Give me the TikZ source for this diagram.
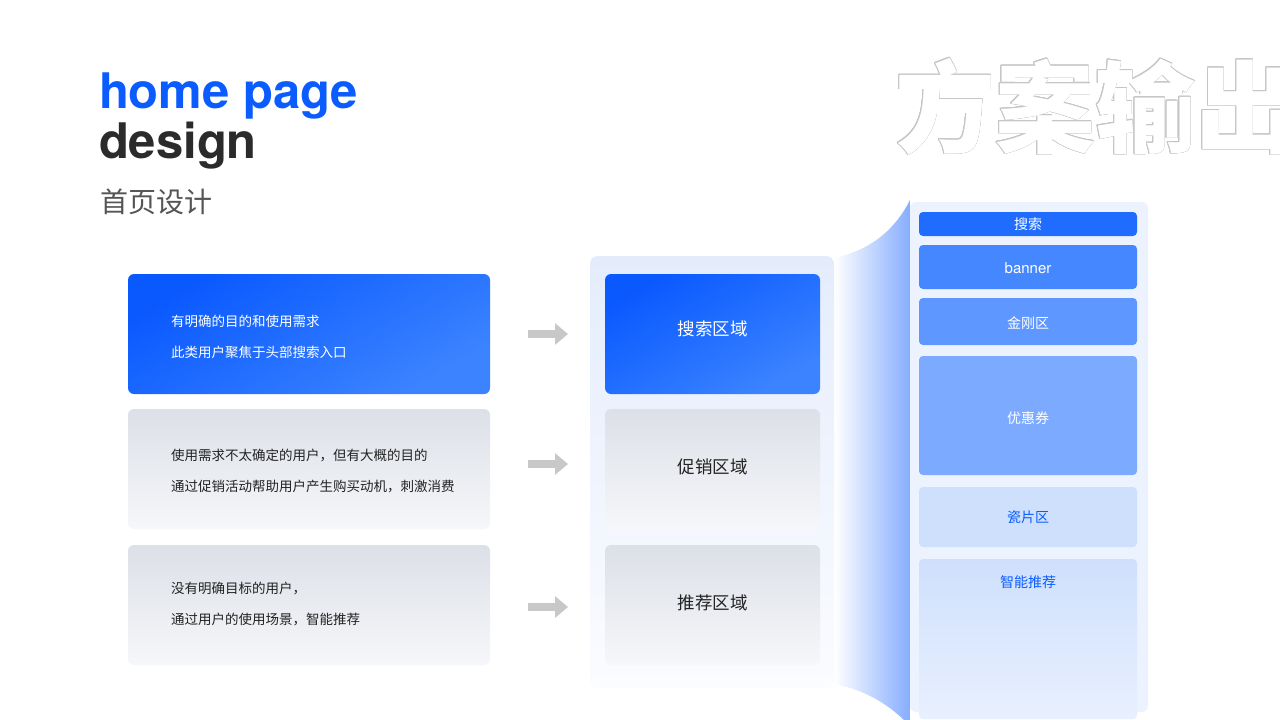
\documentclass[tikz,border=0pt]{standalone}
\usepackage{fontspec}
\setmainfont{Noto Sans CJK SC}
\newfontfamily\heros{TeX Gyre Heros}
\usetikzlibrary{arrows.meta,positioning}
\definecolor{brandblue}{HTML}{0A5CFF}
\definecolor{inkdark}{HTML}{2B2B2B}
\definecolor{inkgray}{HTML}{555555}
\definecolor{textdark}{HTML}{222222}
\definecolor{deepblue}{HTML}{0A59FF}
\definecolor{paleblue}{HTML}{3C84FF}
\definecolor{mistgray}{HTML}{DCE0E7}
\definecolor{fogwhite}{HTML}{F6F7FA}
\definecolor{panelwash}{HTML}{E4ECFC}
\definecolor{panelfade}{HTML}{FBFCFF}
\definecolor{arrowgray}{HTML}{C8C8C8}
\definecolor{halogray}{HTML}{C6C6C6}
\definecolor{funnelblue}{HTML}{86ADFF}
\definecolor{phonewash}{HTML}{EDF3FE}
\definecolor{slotsearch}{HTML}{1F6CFF}
\definecolor{slotbanner}{HTML}{4587FF}
\definecolor{slotkingkong}{HTML}{5E97FF}
\definecolor{slotcoupon}{HTML}{7BAAFF}
\definecolor{slottile}{HTML}{CFE0FD}
\definecolor{slotfade}{HTML}{E8F0FE}

\begin{document}
\begin{tikzpicture}[
  x=1pt, y=-1pt,
  every node/.style={inner sep=0pt, outer sep=0pt},
  card/.style={rounded corners=6pt, minimum width=362pt, minimum height=120pt},
  bluecard/.style={card, top color=deepblue, bottom color=paleblue, shading angle=30},
  graycard/.style={card, top color=mistgray, bottom color=fogwhite},
  note/.style={anchor=west, align=left, font=\fontsize{13.5}{31}\selectfont},
  zone/.style={rounded corners=6pt, minimum width=215pt, minimum height=120pt, font=\fontsize{17.5}{20}\selectfont},
  slot/.style={rounded corners=4pt, minimum width=218pt, text=white, font=\fontsize{14}{16}\selectfont},
  ghost/.style={anchor=base west, font=\fontsize{100}{100}\selectfont\bfseries},
  arr/.style={-{Triangle[length=13pt, width=21pt]}, line width=8pt, draw=arrowgray, shorten <=38pt, shorten >=37pt}
]
\useasboundingbox (0,0) rectangle (1280,720);
\clip (0,0) rectangle (1280,720);
\fill[white] (0,0) rectangle (1280,720);

% titles
\node[anchor=base west, text=brandblue, font=\heros\bfseries\fontsize{49}{49}\selectfont] (title) at (99,108) {home page};
\node[anchor=base west, text=inkdark, font=\heros\bfseries\fontsize{49}{49}\selectfont] (subtitle) at (99,158) {design};
\node[anchor=base west, text=inkgray, font=\fontsize{28}{28}\selectfont] (cntitle) at (100,212) {首页设计};

% outlined slogan
\foreach \i in {1,...,16}
  \node[ghost, text=halogray] (halo\i) at ([shift={(\i*22.5:0.7)}]895,145) {方案输出};
\node[ghost, text=white] (slogan) at (895,145) {方案输出};

% user needs
\node[bluecard] (need1) at (309,334) {};
\node[graycard, below=15pt of need1] (need2) {};
\node[graycard, below=16pt of need2] (need3) {};
\node[note, text=white] (need1txt) at ([xshift=43pt, yshift=-3pt]need1.west) {有明确的目的和使用需求\\此类用户聚焦于头部搜索入口};
\node[note, text=textdark] (need2txt) at ([xshift=43pt, yshift=-2pt]need2.west) {使用需求不太确定的用户，但有大概的目的\\通过促销活动帮助用户产生购买动机，刺激消费};
\node[note, text=textdark] (need3txt) at ([xshift=43pt, yshift=1pt]need3.west) {没有明确目标的用户，\\通过用户的使用场景，智能推荐};

% funnel towards the phone
\shade[left color=white, middle color=funnelblue!18, right color=funnelblue] (834,258) .. controls (872,250) and (896,228) .. (910,200)
  -- (910,726) .. controls (890,705) and (866,690) .. (834,684) -- cycle;

% zones
\shade[rounded corners=8pt, top color=panelwash, bottom color=panelfade] (590,256) rectangle (834,688);
\node[zone, top color=deepblue, bottom color=paleblue, shading angle=30, text=white] (zone1) at (712.5,334) {\raisebox{-1pt}[0pt][0pt]{搜索区域}};
\node[zone, top color=mistgray, bottom color=fogwhite, text=textdark, below=15pt of zone1] (zone2) {\raisebox{-4pt}[0pt][0pt]{促销区域}};
\node[zone, top color=mistgray, bottom color=fogwhite, text=textdark, below=16pt of zone2] (zone3) {\raisebox{-4pt}[0pt][0pt]{推荐区域}};

\draw[arr] (need1) -- (zone1);
\draw[arr] ([yshift=5pt]need2.east) -- ([yshift=5pt]zone2.west);
\draw[arr] ([yshift=-2pt]need3.east) -- ([yshift=-2pt]zone3.west);

% phone layout
\fill[phonewash, rounded corners=6pt] (910,202) rectangle (1148,712);
\node[slot, fill=slotsearch, minimum height=24pt] (search) at (1028,224) {搜索};
\node[slot, fill=slotbanner, minimum height=44pt, below=9pt of search, font=\heros\fontsize{15}{16}\selectfont] (banner) {\raisebox{-6pt}[0pt][0pt]{banner}};
\node[slot, fill=slotkingkong, minimum height=47pt, below=9pt of banner] (kingkong) {\raisebox{-7pt}[0pt][0pt]{金刚区}};
\node[slot, fill=slotcoupon, minimum height=119pt, below=11pt of kingkong] (coupon) {\raisebox{-8pt}[0pt][0pt]{优惠券}};
\node[slot, fill=slottile, text=brandblue, minimum height=60pt, below=12pt of coupon] (tile) {瓷片区};
\node[slot, top color=slottile, bottom color=slotfade, minimum height=160pt, below=12pt of tile] (smart) {};
\node[text=brandblue, font=\fontsize{14}{16}\selectfont, below=17pt of smart.north] (smarttxt) {智能推荐};
\end{tikzpicture}
\end{document}
